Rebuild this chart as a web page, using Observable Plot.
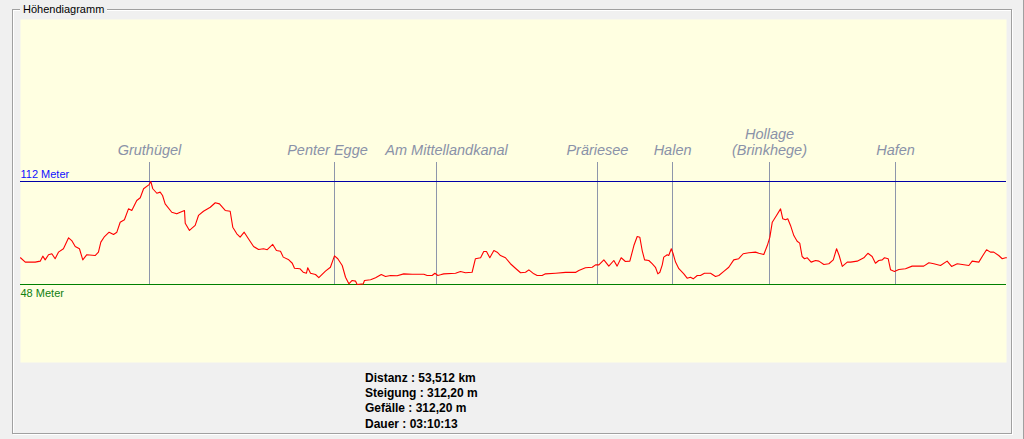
<!DOCTYPE html>
<html>
<head>
<meta charset="utf-8">
<script src="https://cdn.jsdelivr.net/npm/d3@7"></script>
<script src="https://cdn.jsdelivr.net/npm/@observablehq/plot@0.6"></script>
<style>
  html, body { margin: 0; padding: 0; }
  body { width: 1024px; height: 439px; overflow: hidden; background: #f0f0f0; position: relative; font-family: "Liberation Sans", Arial, sans-serif; }
  .etch-w { position: absolute; left: 13px; top: 10px; width: 1000px; height: 425px; box-sizing: border-box; border: 1px solid #ffffff; }
  .etch-g { position: absolute; left: 12px; top: 9px; width: 1000px; height: 425px; box-sizing: border-box; border: 1px solid #a0a0a0; }
  .edge-r { position: absolute; left: 1023px; top: 0; width: 1px; height: 439px; background: #a0a0a0; }
  .legend { position: absolute; left: 20px; top: 3px; padding: 0 3px; background: #f0f0f0; font-size: 11px; line-height: 13px; color: #000; }
  #chart { position: absolute; left: 0; top: 0; }
  .stats { position: absolute; left: 365px; top: 371px; font-size: 12px; font-weight: bold; line-height: 15.2px; color: #000; white-space: pre; }
</style>
</head>
<body>
<div class="etch-w"></div>
<div class="etch-g"></div>
<div class="edge-r"></div>
<div class="legend">Höhendiagramm</div>
<div id="chart"></div>
<div class="stats" id="stats"></div>
<script>
// ---- data ----
const totalKm = 53.512;
const distKm = [
  0.00,0.26,0.80,1.07,1.21,1.34,1.52,1.70,1.88,2.06,2.33,2.61,2.78,2.97,3.20,3.38,3.60,4.05,4.23,4.36,
  4.56,4.81,5.05,5.23,5.41,5.64,5.86,6.04,6.31,6.50,6.68,6.98,7.07,7.18,7.40,7.58,7.71,7.85,8.21,8.48,
  8.67,8.90,8.94,9.17,9.48,9.66,9.93,10.30,10.57,10.80,11.11,11.38,11.52,11.74,11.92,12.14,12.37,12.65,12.92,13.19,
  13.39,13.69,13.89,14.11,14.26,14.56,14.75,14.87,15.16,15.34,15.52,15.59,15.74,16.01,16.19,16.55,16.82,17.04,17.22,17.46,
  17.64,17.82,18.00,18.18,18.27,18.60,18.67,19.00,19.27,19.58,19.81,20.08,20.44,20.80,21.26,21.53,21.89,22.07,22.34,22.49,
  22.65,22.79,22.97,23.61,23.88,24.15,24.51,24.69,24.97,25.14,25.29,25.47,25.69,25.87,26.05,26.32,26.59,26.86,27.14,27.41,
  27.59,27.86,28.04,28.31,28.49,29.04,29.58,30.12,30.30,30.66,31.03,31.21,31.39,31.66,31.93,32.20,32.38,32.60,32.83,33.07,
  33.29,33.47,33.61,33.74,33.87,34.10,34.28,34.46,34.59,34.70,34.83,34.91,35.10,35.18,35.32,35.42,35.55,35.73,36.00,36.18,
  36.36,36.51,36.73,36.90,37.12,37.45,37.72,37.90,38.17,38.44,38.71,38.98,39.22,39.53,39.89,40.07,40.34,40.53,40.67,40.80,
  41.03,41.25,41.37,41.52,41.64,41.79,41.97,42.15,42.29,42.42,42.55,42.70,42.91,43.15,43.33,43.60,43.87,44.11,44.29,44.43,
  44.60,44.87,45.05,45.41,45.77,45.99,46.22,46.40,46.58,46.77,46.89,47.09,47.22,47.43,47.67,48.03,48.39,49.02,49.30,49.57,
  49.93,50.29,50.53,50.84,51.47,51.65,52.01,52.23,52.43,52.64,52.82,53.09,53.28,53.46,53.51
];
const elevM = [
  64.6,61.9,61.9,62.5,65.6,63.3,66.5,67.1,64.0,68.1,70.2,77.0,75.3,71.6,70.2,63.3,66.5,66.0,68.1,74.3,
  77.8,80.5,79.1,80.5,86.7,88.2,95.0,94.0,100.2,101.9,107.5,110.1,112.0,107.5,104.7,105.4,103.3,98.1,92.9,91.9,
  92.9,94.0,86.1,81.6,84.7,90.9,93.5,96.0,98.8,98.1,94.0,93.5,83.6,79.5,77.4,80.5,76.4,71.6,69.7,70.2,
  69.6,72.9,69.1,68.7,65.0,63.3,61.2,58.1,57.8,55.6,55.0,58.4,55.0,54.2,52.2,56.3,58.7,65.8,64.0,59.8,
  52.5,48.4,50.5,50.1,48.0,48.4,50.5,50.9,52.2,54.2,53.0,53.6,53.4,54.6,54.4,54.4,54.4,53.6,53.6,55.0,
  53.6,54.0,54.6,55.0,56.1,55.3,55.6,64.0,64.6,68.5,68.5,64.6,69.1,68.1,66.0,64.6,60.9,58.1,55.3,55.6,
  57.1,54.6,53.6,53.6,54.6,55.0,55.5,55.5,56.7,58.4,58.7,60.2,60.2,63.3,59.4,62.9,59.4,64.6,62.3,62.5,
  72.2,77.8,77.4,69.1,63.3,62.9,60.9,58.7,54.6,55.6,60.2,65.0,66.5,66.0,70.2,67.1,61.9,57.8,54.6,51.9,
  52.5,51.5,53.6,53.6,55.0,55.0,53.0,53.6,56.1,58.7,63.3,64.0,67.1,67.7,68.1,67.4,66.6,72.2,77.4,86.7,
  90.9,95.0,88.8,88.2,88.8,84.7,78.4,74.9,73.7,65.4,64.0,64.6,61.9,62.9,62.5,60.4,60.9,63.3,70.2,66.0,
  59.2,61.9,61.9,62.5,64.6,67.4,65.4,61.2,62.9,63.3,64.6,64.0,57.1,56.1,57.3,57.8,59.4,59.4,61.5,60.9,
  59.8,62.5,59.2,60.9,59.8,62.5,61.9,66.0,69.6,68.1,68.1,66.0,64.0,64.6,64.6
];
const poiNames = ["Gruthügel", "Penter Egge", "Am Mittellandkanal", "Präriesee", "Halen", "Hollage\n(Brinkhege)", "Hafen"];
const poiKm = [7.00, 17.04, 22.58, 31.31, 35.39, 40.65, 47.49];
const levelValues = [112, 48];
const levelLabels = ["112 Meter", "48 Meter"];
const statLabels = ["Distanz", "Steigung", "Gefälle", "Dauer"];
const statValues = ["53,512 km", "312,20 m", "312,20 m", "03:10:13"];

// ---- build tables ----
const profile = distKm.map((d, i) => ({km: d, m: elevM[i]}));
const pois = poiNames.map((n, i) => ({name: n, km: poiKm[i]}));
const levels = levelValues.map((v, i) => ({v, label: levelLabels[i]}));
const markerTop = 124;

// label nudges (pixels) to keep neighbouring labels apart, as in the original
const nudge = {"Penter Egge": -7, "Am Mittellandkanal": 10};
const labelStyle = {x: "km", y: markerTop, text: "name", dy: -7, lineAnchor: "bottom", lineHeight: 1.12,
  fontStyle: "italic", fontSize: 14.5, fill: "#8a92a8", fontFamily: "Liberation Sans, Arial, sans-serif"};

const chart = Plot.plot({
  width: 1024,
  height: 439,
  marginLeft: 20,
  marginRight: 18,
  marginTop: 19,
  marginBottom: 77,
  x: {domain: [0, totalKm], axis: null},
  y: {domain: [-0.5, 212.7], axis: null},
  style: {background: "transparent", fontFamily: "Liberation Sans, Arial, sans-serif"},
  marks: [
    Plot.frame({fill: "#ffffe1", stroke: null}),
    Plot.ruleX(pois, {x: "km", y1: levelValues[1], y2: markerTop, stroke: "#8e96ab", strokeWidth: 1, shapeRendering: "crispEdges"}),
    Plot.ruleY([levels[0]], {y: "v", stroke: "#0000a8", strokeWidth: 1, shapeRendering: "crispEdges"}),
    Plot.ruleY([levels[1]], {y: "v", stroke: "#008000", strokeWidth: 1, shapeRendering: "crispEdges"}),
    Plot.line(profile, {x: "km", y: "m", stroke: "#ff0000", strokeWidth: 1.1}),
    Plot.text([levels[0]], {y: "v", text: "label", frameAnchor: "left", textAnchor: "start", dy: -7, fill: "#1010ff", fontSize: 11}),
    Plot.text([levels[1]], {y: "v", text: "label", frameAnchor: "left", textAnchor: "start", dy: 9, fill: "#108010", fontSize: 11}),
    Plot.text(pois.filter(p => !(p.name in nudge)), labelStyle),
    ...Object.entries(nudge).map(([name, dx]) =>
      Plot.text(pois.filter(p => p.name === name), {...labelStyle, dx}))
  ]
});
document.getElementById("chart").appendChild(chart);
document.getElementById("stats").textContent = statLabels.map((l, i) => `${l} : ${statValues[i]}`).join("\n");
</script>
</body>
</html>
